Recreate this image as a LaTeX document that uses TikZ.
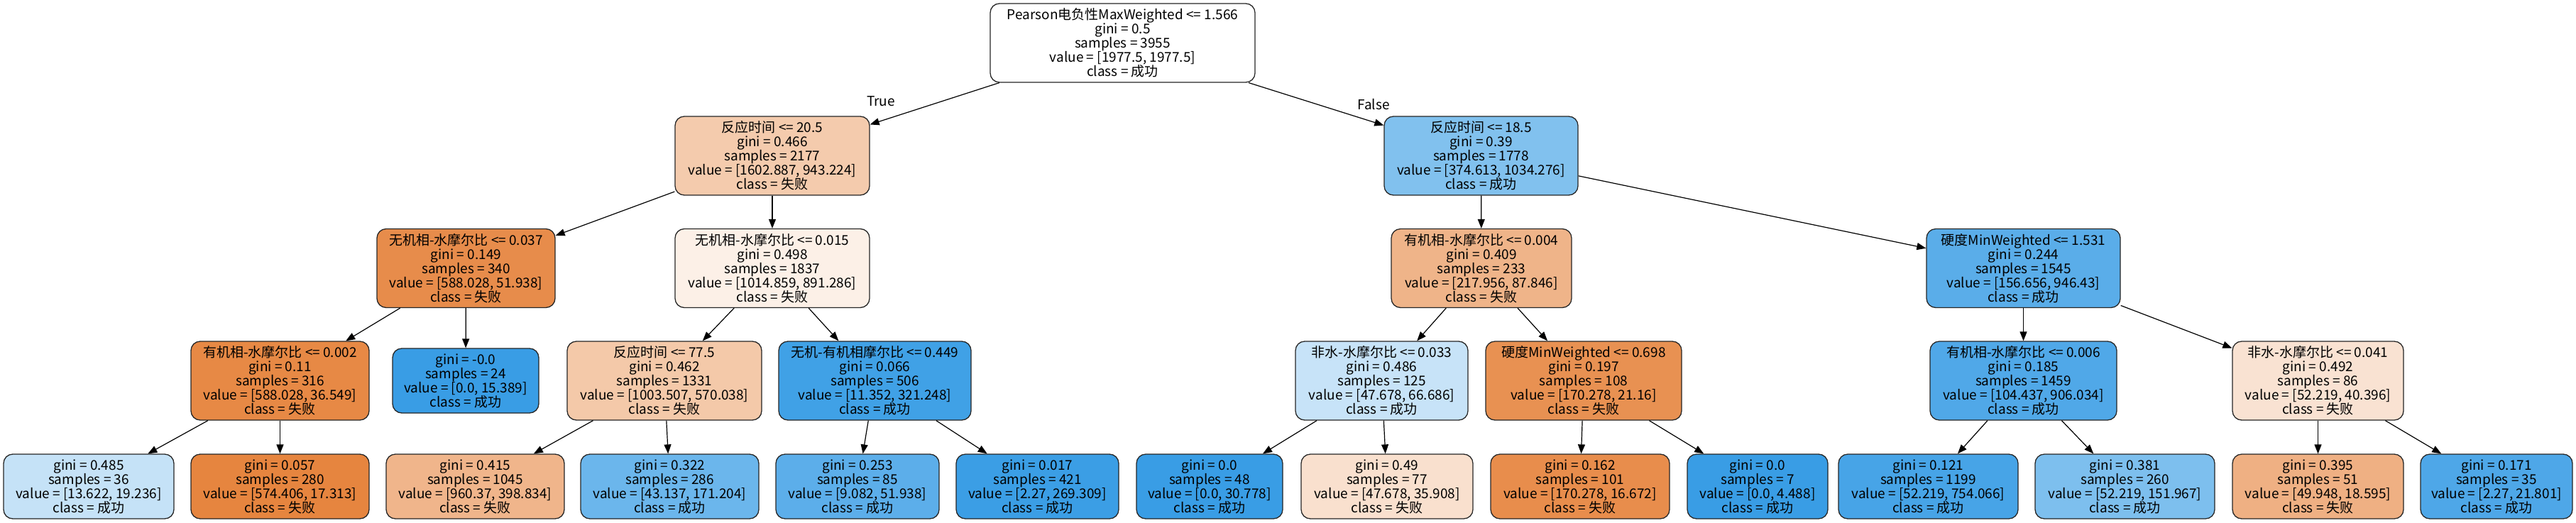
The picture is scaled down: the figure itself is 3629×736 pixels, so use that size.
\documentclass[tikz,border=0pt]{standalone}
\usepackage{fontspec}
\setmainfont{Noto Sans CJK SC}
\usetikzlibrary{arrows.meta}
\definecolor{cR}{RGB}{255,255,255}
\definecolor{cA}{RGB}{244,203,173}
\definecolor{cB}{RGB}{129,193,238}
\definecolor{cC}{RGB}{231,140,75}
\definecolor{cD}{RGB}{252,240,231}
\definecolor{cE}{RGB}{239,180,137}
\definecolor{cF}{RGB}{90,173,233}
\definecolor{cG}{RGB}{231,137,69}
\definecolor{cH}{RGB}{57,157,229}
\definecolor{cI}{RGB}{244,201,169}
\definecolor{cJ}{RGB}{64,161,230}
\definecolor{cK}{RGB}{199,227,248}
\definecolor{cL}{RGB}{232,145,82}
\definecolor{cM}{RGB}{80,168,232}
\definecolor{cN}{RGB}{249,226,210}
\definecolor{lA}{RGB}{197,226,247}
\definecolor{lB}{RGB}{230,133,63}
\definecolor{lC}{RGB}{240,181,139}
\definecolor{lD}{RGB}{107,182,236}
\definecolor{lE}{RGB}{92,174,234}
\definecolor{lF}{RGB}{59,158,229}
\definecolor{lH}{RGB}{249,224,206}
\definecolor{lI}{RGB}{232,141,76}
\definecolor{lK}{RGB}{71,164,231}
\definecolor{lL}{RGB}{125,191,238}
\definecolor{lM}{RGB}{239,176,131}
\definecolor{lN}{RGB}{78,167,232}
\begin{document}
\begin{tikzpicture}[x=1pt,y=-1pt,
  tn/.style={draw=black!85, line width=1.3pt, rounded corners=13pt, inner sep=0pt, align=center, font=\fontsize{19}{20}\selectfont},
  inner/.style={tn, minimum height=111pt},
  leaf/.style={tn, minimum height=91pt},
  edge/.style={-{Triangle[length=13pt,width=10pt]}, line width=1.2pt, black},
  lbl/.style={font=\fontsize{19}{20}\selectfont, inner sep=0pt}]
\useasboundingbox (0,0) rectangle (3629,736);
% row 0
\node[inner, fill=cR, minimum width=373pt] (root) at (1581.5,60.5) {Pearson电负性MaxWeighted <= 1.566\\gini = 0.5\\samples = 3955\\value = [1977.5, 1977.5]\\class = 成功};
% row 1
\node[inner, fill=cA, minimum width=274pt] (n1) at (1088,219.5) {反应时间 <= 20.5\\gini = 0.466\\samples = 2177\\value = [1602.887, 943.224]\\class = 失败};
\node[inner, fill=cB, minimum width=273pt] (n2) at (2086.5,219.5) {反应时间 <= 18.5\\gini = 0.39\\samples = 1778\\value = [374.613, 1034.276]\\class = 成功};
% row 2
\node[inner, fill=cC, minimum width=251pt] (n3) at (656.5,378) {无机相-水摩尔比 <= 0.037\\gini = 0.149\\samples = 340\\value = [588.028, 51.938]\\class = 失败};
\node[inner, fill=cD, minimum width=274pt] (n4) at (1088,378) {无机相-水摩尔比 <= 0.015\\gini = 0.498\\samples = 1837\\value = [1014.859, 891.286]\\class = 失败};
\node[inner, fill=cE, minimum width=254pt] (n5) at (2087,378) {有机相-水摩尔比 <= 0.004\\gini = 0.409\\samples = 233\\value = [217.956, 87.846]\\class = 失败};
\node[inner, fill=cF, minimum width=273pt] (n6) at (2850.5,378) {硬度MinWeighted <= 1.531\\gini = 0.244\\samples = 1545\\value = [156.656, 946.43]\\class = 成功};
% row 3
\node[inner, fill=cG, minimum width=251pt] (n7) at (394.5,536.5) {有机相-水摩尔比 <= 0.002\\gini = 0.11\\samples = 316\\value = [588.028, 36.549]\\class = 失败};
\node[leaf, fill=cH, minimum width=206pt] (n8) at (656,536.5) {gini = -0.0\\samples = 24\\value = [0.0, 15.389]\\class = 成功};
\node[inner, fill=cI, minimum width=274pt] (n9) at (936,536.5) {反应时间 <= 77.5\\gini = 0.462\\samples = 1331\\value = [1003.507, 570.038]\\class = 失败};
\node[inner, fill=cJ, minimum width=271pt] (n10) at (1232.5,536.5) {无机-有机相摩尔比 <= 0.449\\gini = 0.066\\samples = 506\\value = [11.352, 321.248]\\class = 成功};
\node[inner, fill=cK, minimum width=243pt] (n11) at (1946.5,536.5) {非水-水摩尔比 <= 0.033\\gini = 0.486\\samples = 125\\value = [47.678, 66.686]\\class = 成功};
\node[inner, fill=cL, minimum width=276pt] (n12) at (2231,536.5) {硬度MinWeighted <= 0.698\\gini = 0.197\\samples = 108\\value = [170.278, 21.16]\\class = 失败};
\node[inner, fill=cM, minimum width=263pt] (n13) at (2850.5,536.5) {有机相-水摩尔比 <= 0.006\\gini = 0.185\\samples = 1459\\value = [104.437, 906.034]\\class = 成功};
\node[inner, fill=cN, minimum width=241pt] (n14) at (3265.5,536.5) {非水-水摩尔比 <= 0.041\\gini = 0.492\\samples = 86\\value = [52.219, 40.396]\\class = 失败};
% row 4 (leaves)
\node[leaf, fill=lA, minimum width=240pt] (l1) at (125,685.5) {gini = 0.485\\samples = 36\\value = [13.622, 19.236]\\class = 成功};
\node[leaf, fill=lB, minimum width=251pt] (l2) at (394.5,685.5) {gini = 0.057\\samples = 280\\value = [574.406, 17.313]\\class = 失败};
\node[leaf, fill=lC, minimum width=251pt] (l3) at (669.5,685.5) {gini = 0.415\\samples = 1045\\value = [960.37, 398.834]\\class = 失败};
\node[leaf, fill=lD, minimum width=251pt] (l4) at (943.5,685.5) {gini = 0.322\\samples = 286\\value = [43.137, 171.204]\\class = 成功};
\node[leaf, fill=lE, minimum width=230pt] (l5) at (1208,685.5) {gini = 0.253\\samples = 85\\value = [9.082, 51.938]\\class = 成功};
\node[leaf, fill=lF, minimum width=229pt] (l6) at (1461.5,685.5) {gini = 0.017\\samples = 421\\value = [2.27, 269.309]\\class = 成功};
\node[leaf, fill=cH, minimum width=206pt] (l7) at (1704,685.5) {gini = 0.0\\samples = 48\\value = [0.0, 30.778]\\class = 成功};
\node[leaf, fill=lH, minimum width=242pt] (l8) at (1954,685.5) {gini = 0.49\\samples = 77\\value = [47.678, 35.908]\\class = 失败};
\node[leaf, fill=lI, minimum width=252pt] (l9) at (2226,685.5) {gini = 0.162\\samples = 101\\value = [170.278, 16.672]\\class = 失败};
\node[leaf, fill=cH, minimum width=198pt] (l10) at (2476,685.5) {gini = 0.0\\samples = 7\\value = [0.0, 4.488]\\class = 成功};
\node[leaf, fill=lK, minimum width=253pt] (l11) at (2716.5,685.5) {gini = 0.121\\samples = 1199\\value = [52.219, 754.066]\\class = 成功};
\node[leaf, fill=lL, minimum width=253pt] (l12) at (2993.5,685.5) {gini = 0.381\\samples = 260\\value = [52.219, 151.967]\\class = 成功};
\node[leaf, fill=lM, minimum width=241pt] (l13) at (3265.5,685.5) {gini = 0.395\\samples = 51\\value = [49.948, 18.595]\\class = 失败};
\node[leaf, fill=lN, minimum width=214pt] (l14) at (3517,685.5) {gini = 0.171\\samples = 35\\value = [2.27, 21.801]\\class = 成功};
% edges
\draw[edge] (root) -- (n1);
\draw[edge] (root) -- (n2);
\draw[edge] (n1) -- (n3);
\draw[edge] (n1) -- (n4);
\draw[edge] (n2) -- (n5);
\draw[edge] (n2) -- (n6);
\draw[edge] (n3) -- (n7);
\draw[edge] (n3) -- (n8);
\draw[edge] (n4) -- (n9);
\draw[edge] (n4) -- (n10);
\draw[edge] (n5) -- (n11);
\draw[edge] (n5) -- (n12);
\draw[edge] (n6) -- (n13);
\draw[edge] (n6) -- (n14);
\draw[edge] (n7) -- (l1);
\draw[edge] (n7) -- (l2);
\draw[edge] (n9) -- (l3);
\draw[edge] (n9) -- (l4);
\draw[edge] (n10) -- (l5);
\draw[edge] (n10) -- (l6);
\draw[edge] (n11) -- (l7);
\draw[edge] (n11) -- (l8);
\draw[edge] (n12) -- (l9);
\draw[edge] (n12) -- (l10);
\draw[edge] (n13) -- (l11);
\draw[edge] (n13) -- (l12);
\draw[edge] (n14) -- (l13);
\draw[edge] (n14) -- (l14);
% branch labels
\node[lbl] (tTrue) at (1241,143) {True};
\node[lbl] (tFalse) at (1935,147) {False};
\end{tikzpicture}
\end{document}
